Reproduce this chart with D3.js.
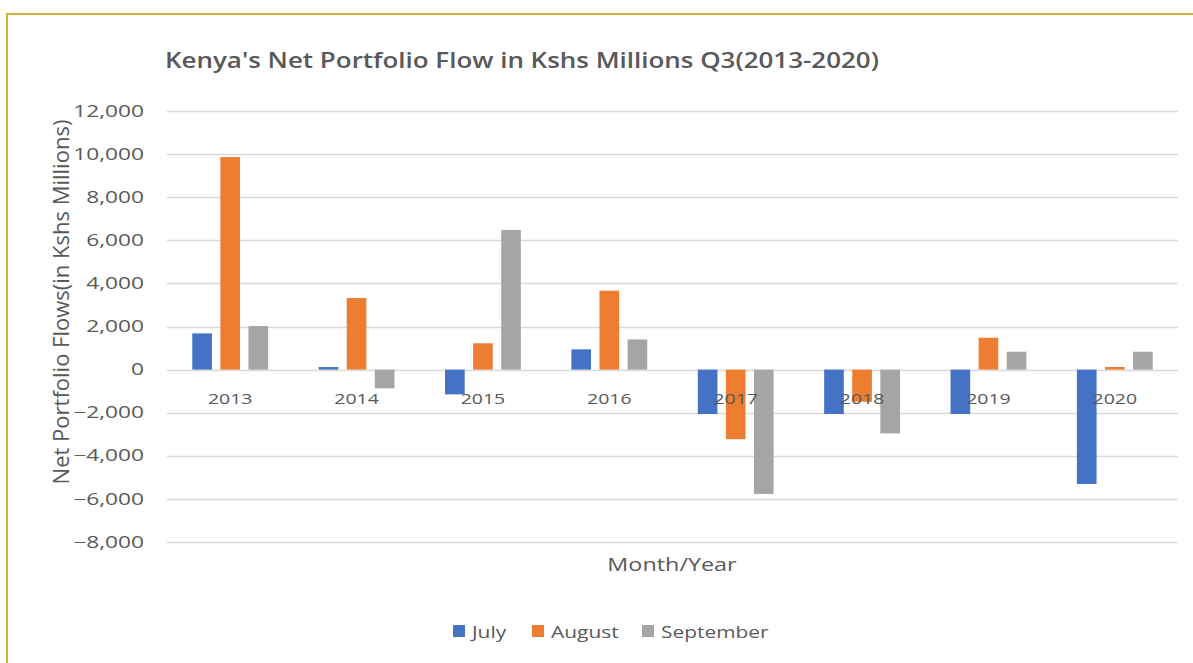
<!DOCTYPE html>
<html>
<head>
<meta charset="utf-8">
<script src="https://cdn.jsdelivr.net/npm/d3@7"></script>
<style>
body { margin:0; background:#fff; }
svg { display:block; font-family:"Open Sans", sans-serif; }
</style>
</head>
<body>
<script>
//---------------------------------- datos
var years = ["2013","2014","2015","2016","2017","2018","2019","2020"];
var months = ["July","August","September"];
var julyValues = [1680, 120, -1150, 940, -2060, -2060, -2060, -5310];
var augustValues = [9860, 3320, 1220, 3660, -3230, -1490, 1480, 120];
var septemberValues = [2020, -870, 6480, 1400, -5770, -2960, 830, 830];
var yTicks = [-8000,-6000,-4000,-2000,0,2000,4000,6000,8000,10000,12000];
var colores = ["#4472C4","#ED7D31","#A5A5A5"];
//----------------------------------
var series = [julyValues, augustValues, septemberValues];
var ancho = 1193, alto = 663;
var margenes = {top:111, left:167, right:15, bottom:121};
var gris = "#595959";

render();

function render()
{
	var svg = d3.select("body").append("svg")
		.attr("width", ancho)
		.attr("height", alto);

	// marco
	svg.append("rect")
		.attr("x", 7).attr("y", 14)
		.attr("width", ancho + 10).attr("height", alto + 10)
		.attr("fill", "none")
		.attr("stroke", "#D6AE3C")
		.attr("stroke-width", 2);

	var x = d3.scaleBand().domain(years)
		.range([margenes.left, ancho - margenes.right])
		.paddingInner(0.4).paddingOuter(0.2);
	var xMes = d3.scaleBand().domain(months)
		.range([0, x.bandwidth()])
		.paddingInner(0.3);
	var y = d3.scaleLinear().domain([-8000, 12000])
		.range([alto - margenes.bottom, margenes.top]);

	// grid
	svg.append("g").selectAll("line")
		.data(yTicks)
		.enter().append("line")
		.attr("x1", margenes.left)
		.attr("x2", ancho - margenes.right)
		.attr("y1", function (d){ return Math.round(y(d)) + 0.5; })
		.attr("y2", function (d){ return Math.round(y(d)) + 0.5; })
		.attr("stroke", "#D9D9D9")
		.attr("stroke-width", 1.3);

	// eje y
	var yAxis = d3.axisLeft(y).tickValues(yTicks)
		.tickFormat(d3.format(","))
		.tickSize(0);
	var gy = svg.append("g")
		.attr("transform", "translate(" + margenes.left + ",0)")
		.call(yAxis);
	gy.select(".domain").remove();
	gy.selectAll("text")
		.attr("x", 0)
		.attr("transform", "translate(-23,0) scale(1.42,1)")
		.attr("fill", gris)
		.style("font-size", "16px")
		.style("font-family", "'Open Sans', sans-serif");

	// barras
	var grupos = svg.append("g").selectAll("g")
		.data(years)
		.enter().append("g")
		.attr("transform", function (d){ return "translate(" + x(d) + ",0)"; });
	grupos.selectAll("rect")
		.data(function (d, i){
			return months.map(function (m, j){ return {mes:m, v:series[j][i], j:j}; });
		})
		.enter().append("rect")
		.attr("x", function (d){ return xMes(d.mes); })
		.attr("width", xMes.bandwidth())
		.attr("y", function (d){ return y(Math.max(0, d.v)); })
		.attr("height", function (d){ return Math.abs(y(d.v) - y(0)); })
		.attr("fill", function (d){ return colores[d.j]; });

	// eje x (etiquetas bajo el cero)
	var xAxis = d3.axisBottom(x).tickSize(0).tickPadding(24);
	var gx = svg.append("g")
		.attr("transform", "translate(0," + y(0) + ")")
		.call(xAxis);
	gx.select(".domain").remove();
	gx.selectAll("text")
		.attr("transform", "scale(1.3,1)")
		.attr("fill", gris)
		.style("font-size", "15px")
		.style("font-family", "'Open Sans', sans-serif");

	// titulos
	svg.append("text")
		.attr("transform", "translate(165,68) scale(1.18,1)")
		.attr("fill", gris)
		.style("font-size", "22px")
		.style("font-weight", "600")
		.text("Kenya's Net Portfolio Flow in Kshs Millions Q3(2013-2020)");

	svg.append("text")
		.attr("transform", "translate(69,302) rotate(-90)")
		.attr("text-anchor", "middle")
		.attr("fill", gris)
		.style("font-size", "22px")
		.text("Net Portfolio Flows(in Kshs Millions)");

	svg.append("text")
		.attr("transform", "translate(672,571) scale(1.23,1)")
		.attr("text-anchor", "middle")
		.attr("fill", gris)
		.style("font-size", "19px")
		.text("Month/Year");

	// leyenda
	var leyX = [453, 532, 642];
	var ley = svg.append("g").selectAll("g")
		.data(months)
		.enter().append("g")
		.attr("transform", function (d, i){ return "translate(" + leyX[i] + ",625)"; });
	ley.append("rect")
		.attr("width", 12).attr("height", 12)
		.attr("fill", function (d, i){ return colores[i]; });
	ley.append("text")
		.attr("transform", "translate(19,13) scale(1.23,1)")
		.attr("fill", gris)
		.style("font-size", "17px")
		.text(function (d){ return d; });
}
</script>
</body>
</html>
